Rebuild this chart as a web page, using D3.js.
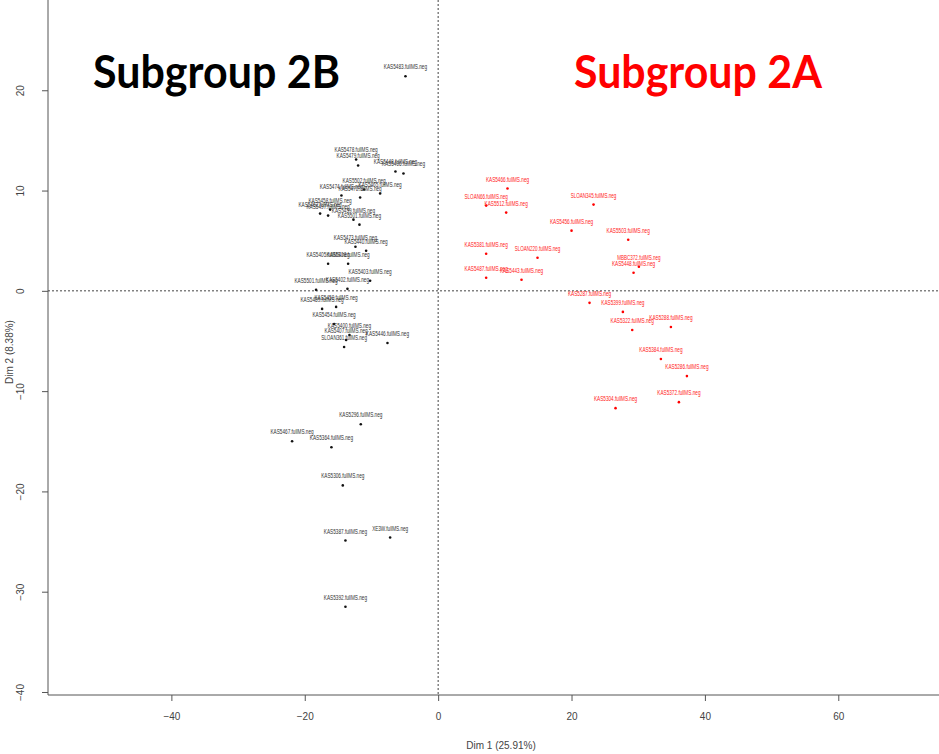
<!DOCTYPE html>
<html>
<head>
<meta charset="utf-8">
<script src="https://cdn.jsdelivr.net/npm/d3@7"></script>
<style>
  body { margin: 0; background: #fff; }
  svg { display: block; }
</style>
</head>
<body>
<svg id="chart" width="939" height="754"></svg>
<script>
// subgroup 2B (black)
var groupBNames = [
    "KAS5483.fullMS.neg", "KAS5478.fullMS.neg", "KAS5479.fullMS.neg", "KAS5448.fullMS.neg",
    "KAS5406.fullMS.neg", "KAS5502.fullMS.neg", "KAS5474.fullMS.neg", "KAS5465.fullMS.neg",
    "KAS5470.fullMS.neg", "KAS5458.fullMS.neg", "KAS5462.fullMS.neg", "KAS5497.fullMS.neg",
    "KAS5501.fullMS.neg", "KAS5459.fullMS.neg", "KAS5473.fullMS.neg", "KAS5440.fullMS.neg",
    "KAS5405.fullMS.neg", "KAS5408.fullMS.neg", "KAS5403.fullMS.neg", "KAS5501.fullMS.neg",
    "KAS5402.fullMS.neg", "KAS5450.fullMS.neg", "KAS5489.fullMS.neg", "KAS5454.fullMS.neg",
    "KAS5400.fullMS.neg", "KAS5407.fullMS.neg", "KAS5446.fullMS.neg", "SLOAN361.fullMS.neg",
    "KAS5296.fullMS.neg", "KAS5467.fullMS.neg", "KAS5364.fullMS.neg", "KAS5306.fullMS.neg",
    "KAS5387.fullMS.neg", "XE3W.fullMS.neg", "KAS5392.fullMS.neg"
];
var groupBDim1 = [
    -4.9, -12.3, -12.0, -6.4, -5.2, -11.1, -14.5, -8.7,
    -11.7, -16.2, -17.7, -16.5, -11.8, -12.7, -12.4, -10.8,
    -16.5, -13.5, -10.2, -18.3, -13.6, -15.3, -17.4, -15.6,
    -13.3, -13.8, -7.6, -14.1,
    -11.6, -21.9, -16.0, -14.3, -13.9, -7.2, -13.9
];
var groupBDim2 = [
    21.4, 13.1, 12.5, 11.9, 11.7, 10.1, 9.5, 9.7,
    9.3, 8.1, 7.7, 7.5, 6.6, 7.1, 4.4, 4.0,
    2.7, 2.7, 1.0, 0.1, 0.2, -1.6, -1.8, -3.3,
    -4.4, -4.9, -5.2, -5.6,
    -13.3, -15.0, -15.6, -19.4, -24.9, -24.6, -31.5
];

// subgroup 2A (red)
var groupANames = [
    "KAS5466.fullMS.neg", "SLOAN66.fullMS.neg", "KAS5512.fullMS.neg", "SLOAN345.fullMS.neg",
    "KAS5456.fullMS.neg", "KAS5503.fullMS.neg", "KAS5381.fullMS.neg", "SLOAN220.fullMS.neg",
    "MBBC372.fullMS.neg", "KAS5448.fullMS.neg", "KAS5487.fullMS.neg", "KAS5443.fullMS.neg",
    "KAS5287.fullMS.neg", "KAS5399.fullMS.neg", "KAS5322.fullMS.neg", "KAS5288.fullMS.neg",
    "KAS5384.fullMS.neg", "KAS5286.fullMS.neg", "KAS5372.fullMS.neg", "KAS5304.fullMS.neg"
];
var groupADim1 = [
    10.4, 7.2, 10.2, 23.3, 20.0, 28.5, 7.2, 14.9,
    30.1, 29.3, 7.2, 12.5,
    22.7, 27.7, 29.1, 34.9, 33.4, 37.3, 36.1, 26.6
];
var groupADim2 = [
    10.2, 8.5, 7.8, 8.6, 6.0, 5.1, 3.7, 3.3,
    2.4, 1.8, 1.3, 1.1,
    -1.2, -2.1, -3.9, -3.6, -6.8, -8.5, -11.1, -11.7
];

var xTicks = [-40, -20, 0, 20, 40, 60];
var yTicks = [-40, -30, -20, -10, 0, 10, 20];
var xTitle = "Dim 1 (25.91%)";
var yTitle = "Dim 2 (8.38%)";
var titleB = "Subgroup 2B";
var titleA = "Subgroup 2A";

var svg = d3.select("#chart");
var plotLeft = 48, plotBottom = 695, plotRight = 939, plotTop = 0;

var x = d3.scaleLinear().domain([-58.5, 75.1]).range([plotLeft, plotRight]);
var y = d3.scaleLinear().domain([-40.3, 29.0]).range([plotBottom, plotTop]);

var axisColor = "#555";
function minus(d) { return d < 0 ? "\u2212" + Math.abs(d) : d; }

// x axis
var gx = svg.append("g").attr("transform", "translate(0," + plotBottom + ")")
    .call(d3.axisBottom(x).tickValues(xTicks).tickSize(6).tickPadding(12));
gx.select(".domain").attr("stroke", axisColor).attr("d", "M" + plotLeft + ",0H" + plotRight);
gx.selectAll(".tick line").attr("stroke", axisColor);
gx.selectAll(".tick text").attr("fill", "#444").attr("font-family", "Liberation Sans, Arial, sans-serif")
    .attr("font-size", 10).text(minus);

// y axis
var gy = svg.append("g").attr("transform", "translate(" + plotLeft + ",0)")
    .call(d3.axisLeft(y).tickValues(yTicks).tickSize(6));
gy.select(".domain").attr("stroke", axisColor).attr("d", "M0," + plotTop + "V" + plotBottom);
gy.selectAll(".tick line").attr("stroke", axisColor);
gy.selectAll(".tick text")
    .attr("fill", "#444").attr("font-family", "Liberation Sans, Arial, sans-serif").attr("font-size", 10)
    .attr("x", 0).attr("dy", 0).attr("text-anchor", "middle")
    .attr("transform", "translate(-24,0) rotate(-90)")
    .text(minus);

// zero reference lines
svg.append("line")
    .attr("x1", x(0)).attr("x2", x(0)).attr("y1", plotTop).attr("y2", plotBottom)
    .attr("stroke", "#444").attr("stroke-width", 1).attr("stroke-dasharray", "2,2");
svg.append("line")
    .attr("x1", plotLeft).attr("x2", plotRight).attr("y1", y(0)).attr("y2", y(0))
    .attr("stroke", "#444").attr("stroke-width", 1).attr("stroke-dasharray", "2,2");

// axis titles
svg.append("text").attr("x", 501).attr("y", 749).attr("text-anchor", "middle")
    .attr("font-family", "Liberation Sans, Arial, sans-serif").attr("font-size", 10).attr("fill", "#444")
    .text(xTitle);
svg.append("text").attr("transform", "translate(13,352) rotate(-90)").attr("text-anchor", "middle")
    .attr("font-family", "Liberation Sans, Arial, sans-serif").attr("font-size", 10).attr("fill", "#444")
    .text(yTitle);

function drawGroup(names, d1, d2, color, textColor) {
    var rows = names.map(function (n, i) { return { name: n, a: d1[i], b: d2[i] }; });
    var g = svg.append("g");
    g.selectAll("circle").data(rows).enter().append("circle")
        .attr("cx", function (d) { return x(d.a); })
        .attr("cy", function (d) { return y(d.b); })
        .attr("r", 1.3)
        .attr("fill", color);
    g.selectAll("text").data(rows).enter().append("text")
        .attr("x", function (d) { return x(d.a); })
        .attr("y", function (d) { return y(d.b) - 7; })
        .attr("text-anchor", "middle")
        .attr("font-family", "Liberation Sans, Arial, sans-serif")
        .attr("font-size", 7.5)
        .attr("fill", textColor)
        .attr("textLength", function (d) { return d.name.length * 2.4; })
        .attr("lengthAdjust", "spacingAndGlyphs")
        .text(function (d) { return d.name; });
}

drawGroup(groupBNames, groupBDim1, groupBDim2, "#111", "#333");
drawGroup(groupANames, groupADim1, groupADim2, "#f00", "#f22");

// subgroup titles
svg.append("text").attr("x", 93).attr("y", 88)
    .attr("font-family", "Lato, 'Open Sans', sans-serif").attr("font-weight", "bold").attr("font-size", 45)
    .attr("textLength", 247).attr("lengthAdjust", "spacingAndGlyphs")
    .attr("fill", "#000").text(titleB);
svg.append("text").attr("x", 574).attr("y", 88)
    .attr("font-family", "Lato, 'Open Sans', sans-serif").attr("font-weight", "bold").attr("font-size", 45)
    .attr("textLength", 248).attr("lengthAdjust", "spacingAndGlyphs")
    .attr("fill", "#f00").text(titleA);
</script>
</body>
</html>
